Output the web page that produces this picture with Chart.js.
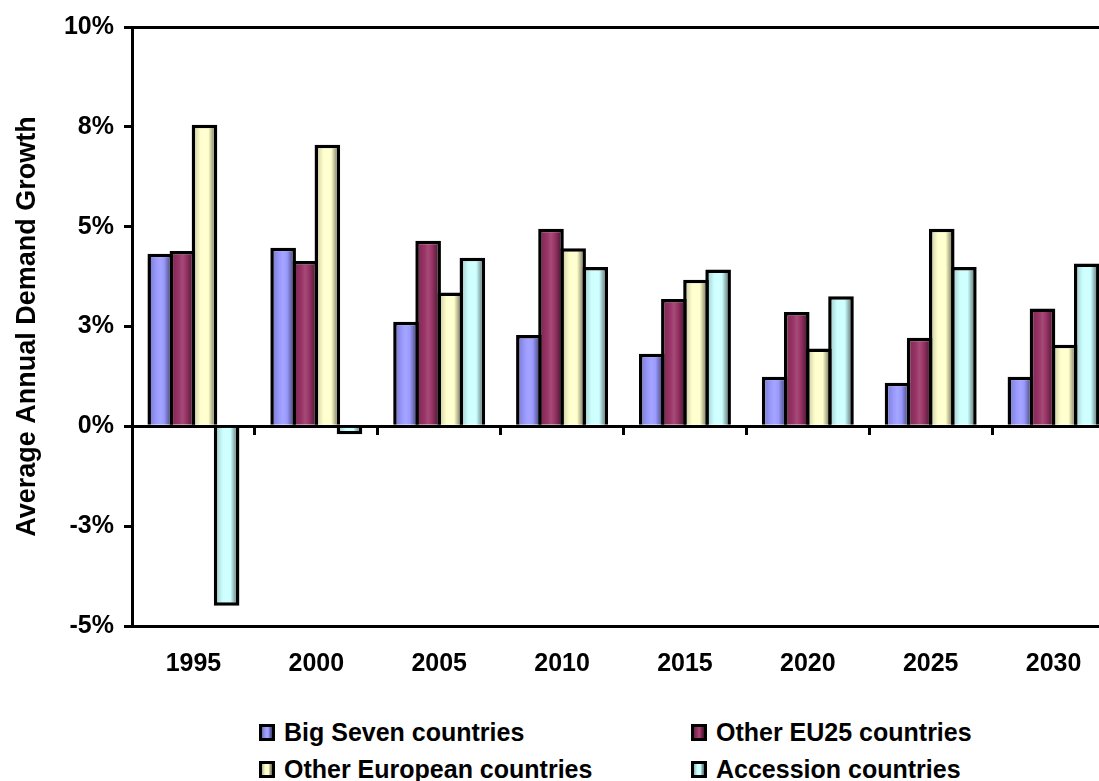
<!DOCTYPE html>
<html>
<head>
<meta charset="utf-8">
<title>Average Annual Demand Growth</title>
<script src="https://cdn.jsdelivr.net/npm/chart.js@4/dist/chart.umd.min.js"></script>
<style>
  html, body { margin: 0; padding: 0; background: #fff; width: 1099px; height: 781px; overflow: hidden; }
  #wrap { position: absolute; left: 0; top: 0; width: 1135px; height: 700px; }
  #legend {
    position: absolute; left: 259px; top: 720px;
    display: grid; grid-template-columns: 432px auto; row-gap: 12px;
    font: bold 25px "Liberation Sans", Arial, sans-serif; color: #000;
  }
  .item { display: flex; align-items: center; height: 25px; line-height: 25px; white-space: nowrap; }
  .swatch { box-sizing: border-box; width: 16px; height: 17px; border: 3px solid #000; margin-right: 9px; }
</style>
</head>
<body>
<div id="wrap"><canvas id="chart"></canvas></div>
<div id="legend"></div>
<script>
// Categories and series (average annual growth, %)
const years = ['1995', '2000', '2005', '2010', '2015', '2020', '2025', '2030'];
const bigSeven      = [4.32, 4.47, 2.62, 2.29, 1.82, 1.24, 1.09, 1.24];
const otherEU25     = [4.39, 4.14, 4.65, 4.95, 3.19, 2.86, 2.22, 2.95];
const otherEuropean = [7.55, 7.05, 3.35, 4.46, 3.67, 1.95, 4.95, 2.04];
const accession     = [-4.49, -0.20, 4.22, 3.99, 3.93, 3.26, 3.99, 4.08];

const seriesNames  = ['Big Seven countries', 'Other EU25 countries', 'Other European countries', 'Accession countries'];
const seriesValues = [bigSeven, otherEU25, otherEuropean, accession];
const seriesColors = ['#9999FF', '#993366', '#FFFFCC', '#CCFFFF'];

// Y axis: -5 .. 10 in steps of 2.5, labelled as whole percents
const yTickLabels = ['-5%', '-3%', '0%', '3%', '5%', '8%', '10%'];

const FONT = '"Liberation Sans", Arial, sans-serif';
const BORDER = 3.5;
const CAT_PCT = 0.72;
const BAR_PCT = 1.158;

function rgb(hex) {
  const n = parseInt(hex.slice(1), 16);
  return [(n >> 16) & 255, (n >> 8) & 255, n & 255];
}
function shade(hex, f) {
  const c = rgb(hex).map(v => Math.round(f >= 1 ? v + (255 - v) * (f - 1) : v * f));
  return 'rgb(' + c.join(',') + ')';
}
// cylinder-like shading across a bar: dark edge, lit middle, dark right side
function shadeStops(hex) {
  return [
    [0.00, shade(hex, 0.70)],
    [0.18, shade(hex, 0.88)],
    [0.35, shade(hex, 1.00)],
    [0.50, shade(hex, 1.12)],
    [0.65, shade(hex, 1.00)],
    [0.82, shade(hex, 0.66)],
    [1.00, shade(hex, 0.46)]
  ];
}

function barFill(ctx) {
  const base = seriesColors[ctx.datasetIndex];
  const chart = ctx.chart;
  const xs = chart.scales && chart.scales.x;
  if (ctx.type !== 'data' || !xs || !chart.chartArea) return base;
  const p0 = xs.getPixelForValue(0);
  const catW = Math.abs(xs.getPixelForValue(1) - p0);
  const group = catW * CAT_PCT;
  const slot = group / seriesValues.length;
  const center = xs.getPixelForValue(ctx.dataIndex) - group / 2 + slot * (ctx.datasetIndex + 0.5);
  const w = slot * BAR_PCT;
  const g = chart.ctx.createLinearGradient(center - w / 2, 0, center + w / 2, 0);
  shadeStops(base).forEach(([o, c]) => g.addColorStop(o, c));
  return g;
}

// frame along the top and right of the plot area
const plotFrame = {
  id: 'plotFrame',
  afterDraw(chart) {
    const { ctx, chartArea: a } = chart;
    ctx.save();
    ctx.strokeStyle = '#000';
    ctx.lineWidth = 3;
    ctx.beginPath();
    const top = Math.round(a.top) + 0.5;
    const right = Math.round(a.right) + 0.5;
    ctx.moveTo(a.left - 1.5, top);
    ctx.lineTo(right, top);
    ctx.lineTo(right, a.bottom);
    ctx.stroke();
    ctx.restore();
  }
};

const chart = new Chart(document.getElementById('chart'), {
  type: 'bar',
  data: {
    labels: years,
    datasets: seriesNames.map((name, i) => ({
      label: name,
      data: seriesValues[i],
      backgroundColor: barFill,
      borderColor: '#000',
      borderWidth: BORDER,
      borderSkipped: 'start',
      categoryPercentage: CAT_PCT,
      barPercentage: BAR_PCT
    }))
  },
  options: {
    responsive: true,
    maintainAspectRatio: false,
    animation: false,
    layout: { padding: { top: 27, right: 20, left: 0, bottom: 0 } },
    plugins: { legend: { display: false }, tooltip: { enabled: true } },
    scales: {
      x: {
        offset: true,
        grid: { display: false, drawTicks: false },
        border: { display: true, width: 3, color: '#000' },
        ticks: { color: '#000', padding: 23, font: { family: FONT, size: 25, weight: 'bold' } },
        afterFit: s => { s.height = 74; }
      },
      // category axis riding on the zero line, carrying the boundary tick marks
      x2: {
        type: 'category',
        position: { y: 0 },
        offset: true,
        z: 1,
        grid: { offset: true, drawOnChartArea: false, drawTicks: true, tickLength: 7, lineWidth: 3, color: '#000' },
        border: { display: true, width: 3, color: '#000' },
        ticks: { display: false }
      },
      y: {
        min: -5,
        max: 10,
        ticks: {
          stepSize: 2.5,
          color: '#000',
          padding: 10,
          font: { family: FONT, size: 25, weight: 'bold' },
          callback: (v, i) => yTickLabels[i]
        },
        grid: { drawOnChartArea: false, drawTicks: true, tickLength: 8, lineWidth: 3, color: '#000' },
        border: { display: true, width: 3, color: '#000' },
        title: {
          display: true,
          text: 'Average Annual Demand Growth',
          color: '#000',
          font: { family: FONT, size: 27, weight: 'bold' },
          padding: { top: 11, bottom: 0 }
        },
        afterFit: s => { s.width = 132; }
      }
    }
  },
  plugins: [plotFrame]
});

// two-column legend built from the chart's datasets
const legendEl = document.getElementById('legend');
chart.data.datasets.forEach((ds, i) => {
  const item = document.createElement('div');
  item.className = 'item';
  const sw = document.createElement('span');
  sw.className = 'swatch';
  const stops = shadeStops(seriesColors[i]).map(([o, c]) => c + ' ' + Math.round(o * 100) + '%');
  sw.style.background = 'linear-gradient(to right, ' + stops.join(', ') + ')';
  const txt = document.createElement('span');
  txt.textContent = ds.label;
  item.appendChild(sw);
  item.appendChild(txt);
  legendEl.appendChild(item);
});
</script>
</body>
</html>
